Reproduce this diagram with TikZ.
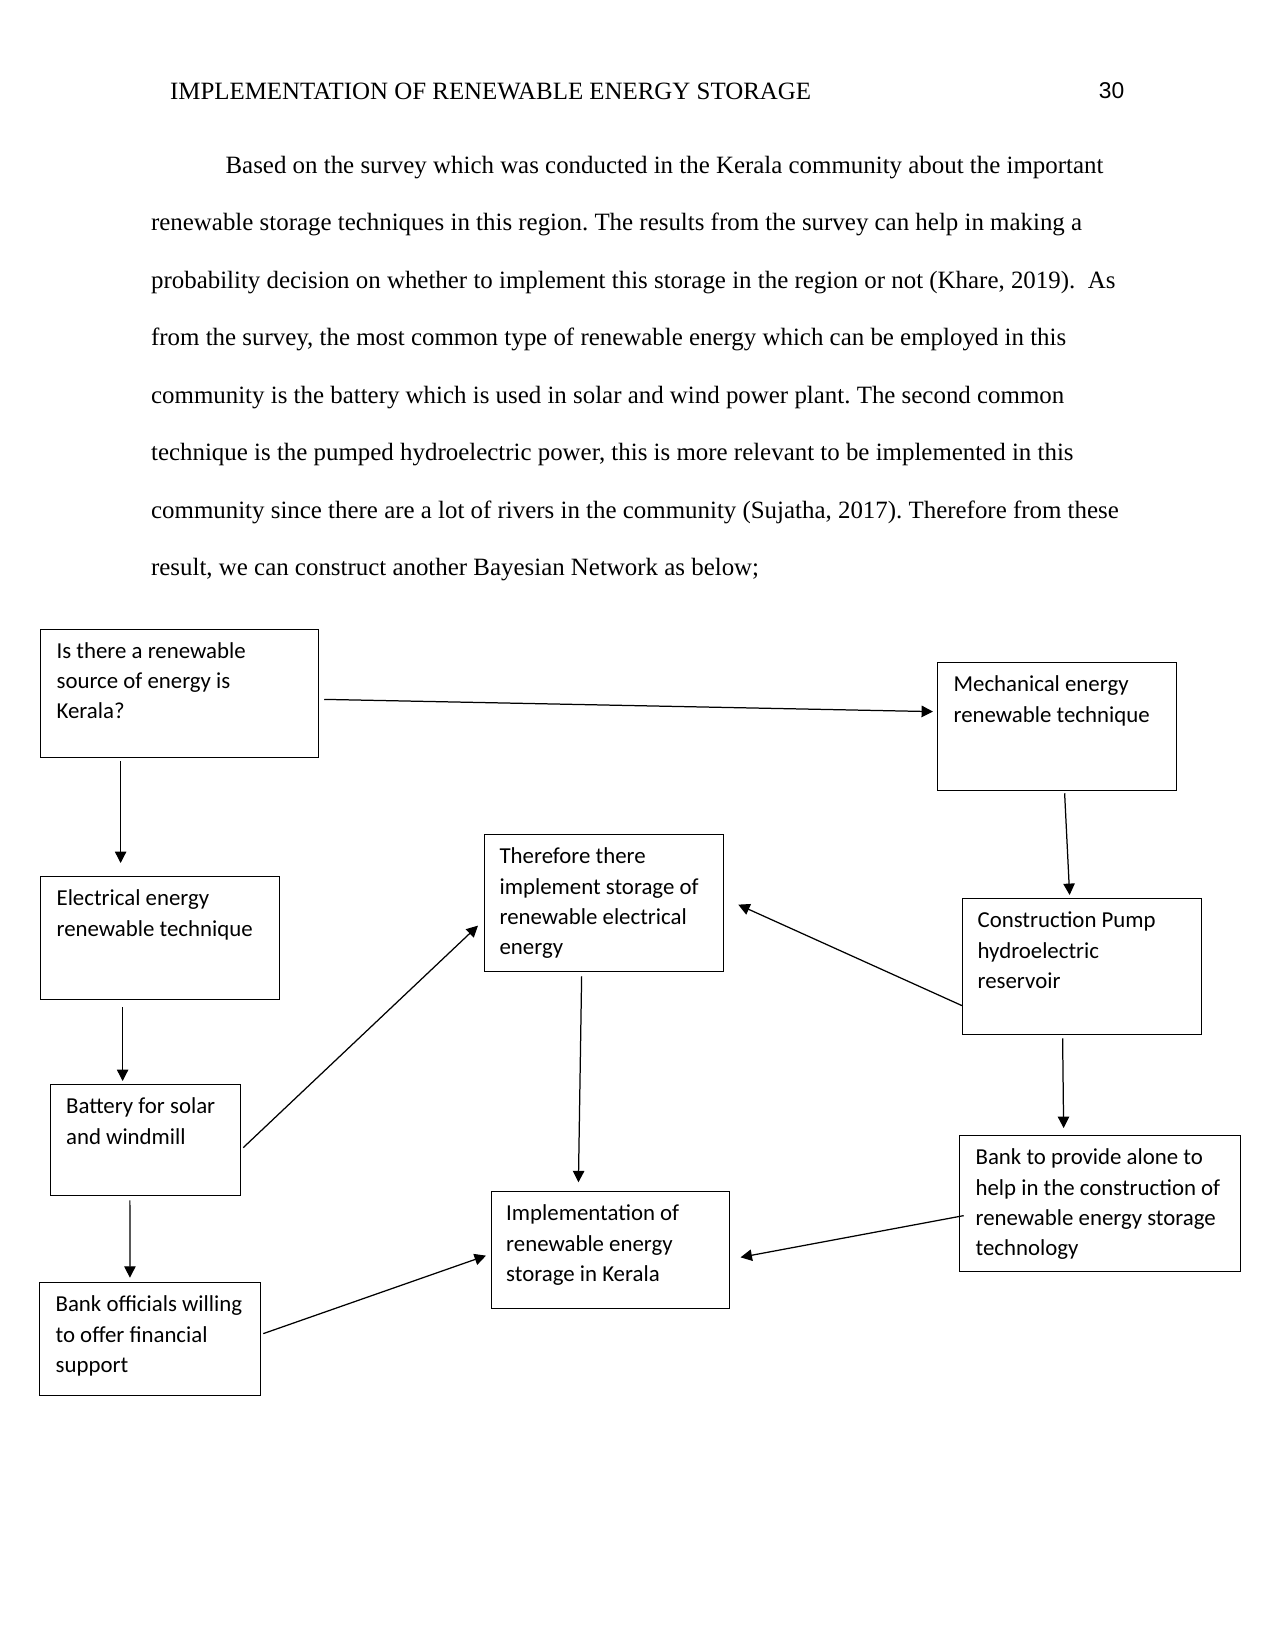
\documentclass[tikz,border=0pt]{standalone}
\usepackage{fontspec}
\setmainfont{Liberation Serif}
\newfontfamily\boxfont{Carlito}
\newfontfamily\numfont{Liberation Sans}
\usetikzlibrary{arrows.meta}
\newdimen\pxu \pxu=0.169333mm
\frenchspacing
\tikzset{
  every picture/.style={x=0.169333mm, y=-0.169333mm, line width=0.6pt},
  box/.style 2 args={draw, anchor=north west, inner sep=0pt, minimum width=#1\pxu, minimum height=#2\pxu},
  txt/.style={anchor=north west, inner sep=0pt, align=left, font=\boxfont\fontsize{11}{14.5}\selectfont, execute at begin node=\strut},
  para/.style={anchor=base west, inner sep=0pt, font=\fontsize{12}{14}\selectfont},
  arrow/.style={-{Triangle[length=5.5pt, width=5.5pt]}},
}

\begin{document}
\begin{tikzpicture}
  \useasboundingbox[fill=white] (0,0) rectangle (1275,1651);
  % running head
  \node[para] (head) at (169.5,99) {IMPLEMENTATION OF RENEWABLE ENERGY STORAGE};
  \node[para, anchor=base east, font=\numfont\fontsize{11}{13}\selectfont] (pageno) at (1125,98.5) {30};
  % paragraph, one node per printed line
  \node[para] (line1) at (225,173.3) {Based on the survey which was conducted in the Kerala community about the important};
  \foreach \t [count=\i from 2] in {
    {renewable storage techniques in this region. The results from the survey can help in making a},
    {probability decision on whether to implement this storage in the region or not (Khare, 2019).\ \ As},
    {from the survey, the most common type of renewable energy which can be employed in this},
    {community is the battery which is used in solar and wind power plant. The second common},
    {technique is the pumped hydroelectric power, this is more relevant to be implemented in this},
    {community since there are a lot of rivers in the community (Sujatha, 2017). Therefore from these},
    {result, we can construct another Bayesian Network as below;}}
    \node[para] (line\i) at (150.5,{173.3+(\i-1)*57.46}) {\t};

  % boxes
  \node[box={278}{128.5}] (source) at (40,628.5) {};
  \node[txt] (source-t) at ([shift={(16,13.5)}]source.north west) {Is there a renewable\\source of energy is\\Kerala?};
  \node[box={239}{128}] (mech) at (937,662) {};
  \node[txt] (mech-t) at ([shift={(16,13.5)}]mech.north west) {Mechanical energy\\renewable technique};
  \node[box={239}{123}] (elec) at (40,876) {};
  \node[txt] (elec-t) at ([shift={(16,13.5)}]elec.north west) {Electrical energy\\renewable technique};
  \node[box={239}{137}] (storage) at (484,834) {};
  \node[txt] (storage-t) at ([shift={(15,13.5)}]storage.north west) {Therefore there\\implement storage of\\renewable electrical\\energy};
  \node[box={239}{136}] (pump) at (962,898) {};
  \node[txt] (pump-t) at ([shift={(15,13.5)}]pump.north west) {Construction Pump\\hydroelectric\\reservoir};
  \node[box={190.5}{111}] (battery) at (49.5,1084) {};
  \node[txt] (battery-t) at ([shift={(16,13.5)}]battery.north west) {Battery for solar\\and windmill};
  \node[box={238}{117}] (impl) at (490.6,1191) {};
  \node[txt] (impl-t) at ([shift={(15,13.5)}]impl.north west) {Implementation of\\renewable energy\\storage in Kerala};
  \node[box={281}{136}] (loan) at (959,1135) {};
  \node[txt] (loan-t) at ([shift={(16,13.5)}]loan.north west) {Bank to provide alone to\\help in the construction of\\renewable energy storage\\technology};
  \node[box={221}{113}] (officials) at (39,1282) {};
  \node[txt] (officials-t) at ([shift={(16,13.5)}]officials.north west) {Bank officials willing\\to offer financial\\support};

  % connectors
  \draw[arrow] ([shift={(5,6)}]source.east) -- ([shift={(-4,-15)}]mech.west);
  \draw[arrow] ([shift={(-59,3)}]source.south) -- ([shift={(-39.5,-13)}]elec.north);
  \draw[arrow] ([shift={(7.5,2)}]mech.south) -- ([shift={(-12.5,-3)}]pump.north);
  \draw[arrow] ([shift={(-37.5,7)}]elec.south) -- ([shift={(-22.75,-3)}]battery.north);
  \draw[arrow] ([shift={(2,7.5)}]battery.east) -- ([shift={(-6,22.5)}]storage.west);
  \draw[arrow] ([shift={(0,39)}]pump.west) -- ([shift={(14,1.5)}]storage.east);
  \draw[arrow] ([shift={(-22.5,4)}]storage.south) -- ([shift={(-31.8,-8.7)}]impl.north);
  \draw[arrow] ([shift={(-19.5,3)}]pump.south) -- ([shift={(-36.5,-7)}]loan.north);
  \draw[arrow] ([shift={(-15.5,4)}]battery.south) -- ([shift={(-20.2,-4.3)}]officials.north);
  \draw[arrow] ([shift={(2,-5.5)}]officials.east) -- ([shift={(-4.6,5.5)}]impl.west);
  \draw[arrow] ([shift={(4.7,12)}]loan.west) -- ([shift={(10.7,7.2)}]impl.east);
\end{tikzpicture}
\end{document}
